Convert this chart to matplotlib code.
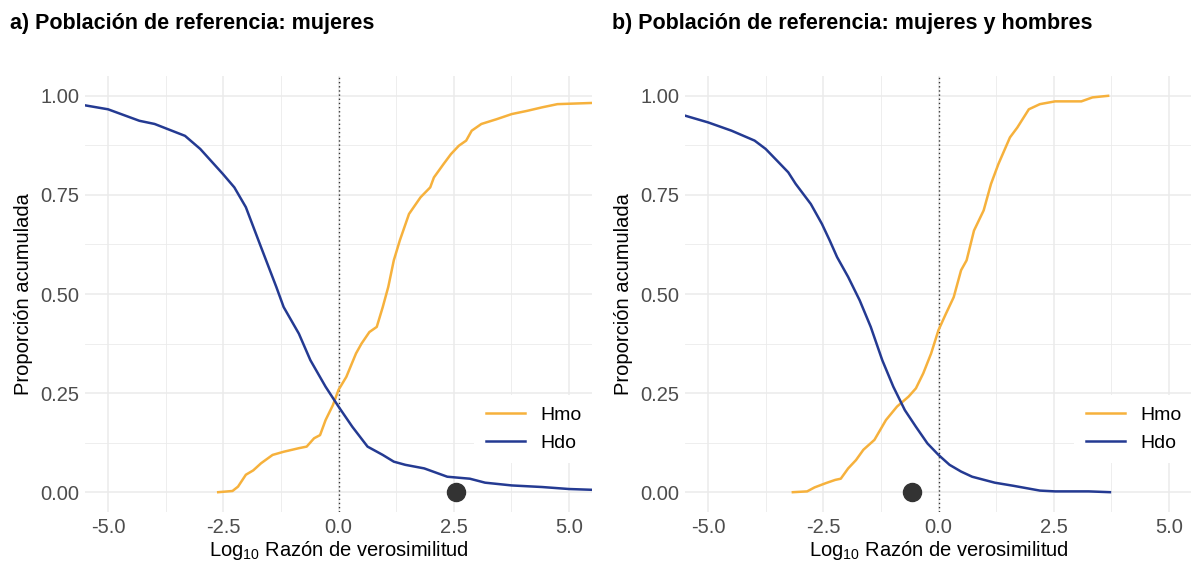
import matplotlib
matplotlib.use("Agg")
import matplotlib.pyplot as plt
from matplotlib.ticker import MultipleLocator

plt.rcParams['font.family'] = ['Liberation Sans', 'DejaVu Sans']
plt.rcParams['mathtext.default'] = 'regular'

# ---------------- data ----------------
titles = ["a) Población de referencia: mujeres",
          "b) Población de referencia: mujeres y hombres"]
series_names = ["Hmo", "Hdo"]

# Panel a (mujeres)
a_hdo_x = [-5.5, -5.0, -4.32, -3.99, -3.33, -3.00, -2.51, -2.26, -2.01, -1.68, -1.35,
           -1.19, -0.86, -0.61, -0.28, 0.0, 0.30, 0.63, 0.96, 1.20, 1.45, 1.86, 2.36,
           2.85, 3.18, 3.76, 4.42, 5.0, 5.5]
a_hdo_y = [0.976, 0.966, 0.937, 0.929, 0.899, 0.866, 0.803, 0.769, 0.719, 0.618, 0.518,
           0.467, 0.400, 0.333, 0.266, 0.216, 0.165, 0.115, 0.094, 0.077, 0.069, 0.060, 0.039,
           0.034, 0.024, 0.017, 0.013, 0.008, 0.006]
a_hmo_x = [-2.61, -2.30, -2.18, -2.01, -1.85, -1.68, -1.43, -1.19, -0.86, -0.69, -0.53,
           -0.40, -0.28, -0.12, 0.0, 0.17, 0.38, 0.50, 0.67, 0.83, 0.96, 1.08, 1.20, 1.33,
           1.53, 1.78, 1.99, 2.07, 2.28, 2.44, 2.61, 2.77, 2.89, 3.10, 3.43, 3.76, 4.09,
           4.42, 4.75, 5.5]
a_hmo_y = [0.0, 0.003, 0.014, 0.044, 0.055, 0.073, 0.094, 0.102, 0.111, 0.115, 0.136,
           0.144, 0.182, 0.220, 0.258, 0.291, 0.350, 0.375, 0.404, 0.417, 0.467, 0.518, 0.585,
           0.635, 0.702, 0.744, 0.769, 0.794, 0.828, 0.853, 0.874, 0.887, 0.912, 0.929, 0.941,
           0.954, 0.962, 0.971, 0.979, 0.982]
a_point_x = 2.55

# Panel b (mujeres y hombres)
b_hdo_x = [-5.5, -5.0, -4.49, -3.99, -3.75, -3.50, -3.26, -3.10, -2.77, -2.53, -2.36,
           -2.20, -1.96, -1.71, -1.47, -1.22, -0.98, -0.73, -0.49, -0.24, 0.0, 0.24, 0.49,
           0.73, 1.22, 1.63, 2.20, 2.53, 3.26, 3.72]
b_hdo_y = [0.950, 0.933, 0.912, 0.887, 0.866, 0.836, 0.807, 0.778, 0.727, 0.677, 0.635,
           0.593, 0.543, 0.484, 0.417, 0.333, 0.266, 0.207, 0.165, 0.123, 0.094, 0.069, 0.052,
           0.039, 0.024, 0.016, 0.004, 0.002, 0.002, 0.0]
b_hmo_x = [-3.16, -2.85, -2.69, -2.44, -2.24, -2.12, -1.96, -1.79, -1.63, -1.39, -1.14,
           -0.90, -0.65, -0.49, -0.33, -0.16, 0.0, 0.16, 0.33, 0.49, 0.61, 0.77, 0.98, 1.14,
           1.30, 1.55, 1.71, 1.96, 2.20, 2.53, 3.10, 3.34, 3.68]
b_hmo_y = [0.0, 0.002, 0.012, 0.023, 0.031, 0.034, 0.060, 0.081, 0.107, 0.132, 0.182,
           0.216, 0.241, 0.262, 0.300, 0.350, 0.409, 0.450, 0.492, 0.560, 0.585, 0.660, 0.711,
           0.778, 0.828, 0.895, 0.920, 0.966, 0.979, 0.986, 0.986, 0.996, 1.0]
b_point_x = -0.58

x_ticks = [-5.0, -2.5, 0.0, 2.5, 5.0]
y_ticks = [0.00, 0.25, 0.50, 0.75, 1.00]
x_label = r"Log$_{10}$ Razón de verosimilitud"
y_label = "Proporción acumulada"

# ---------------- style ----------------
ORANGE = "#F6B13C"
BLUE = "#243A92"
GRID = "#EBEBEB"
TICKC = "#4D4D4D"

W, H = 1191, 565
fig = plt.figure(figsize=(W / 100, H / 100), dpi=100)

panels = [
    (a_hmo_x, a_hmo_y, a_hdo_x, a_hdo_y, a_point_x, 85, titles[0], 10),
    (b_hmo_x, b_hmo_y, b_hdo_x, b_hdo_y, b_point_x, 685, titles[1], 612),
]

for hmo_x, hmo_y, hdo_x, hdo_y, px, left_px, title, title_px in panels:
    ax = fig.add_axes([left_px / W, (H - 512) / H, 507 / W, 436 / H])
    ax.set_xlim(-5.5, 5.5)
    ax.set_ylim(-0.05, 1.05)
    for s in ax.spines.values():
        s.set_visible(False)
    ax.set_xticks(x_ticks)
    ax.set_xticklabels([f"{v:.1f}" for v in x_ticks])
    ax.set_yticks(y_ticks)
    ax.set_yticklabels([f"{v:.2f}" for v in y_ticks])
    ax.xaxis.set_minor_locator(MultipleLocator(1.25))
    ax.yaxis.set_minor_locator(MultipleLocator(0.125))
    ax.tick_params(which='both', length=0)
    ax.tick_params(axis='both', labelsize=14.5, colors=TICKC, pad=4)
    ax.grid(which='major', color=GRID, lw=1.1)
    ax.grid(which='minor', color=GRID, lw=0.6)
    ax.set_axisbelow(True)

    ax.axvline(0, color="#333333", lw=1.0, ls=(0, (1, 2)), zorder=2)
    ax.plot(hmo_x, hmo_y, color=ORANGE, lw=1.8, label=series_names[0], zorder=3,
            solid_joinstyle='round')
    ax.plot(hdo_x, hdo_y, color=BLUE, lw=1.8, label=series_names[1], zorder=3,
            solid_joinstyle='round')
    ax.plot([px], [0.0], 'o', color="#333333", ms=13, zorder=4)

    ax.set_xlabel(x_label, fontsize=14.5, color="black", labelpad=2)
    ax.set_ylabel(y_label, fontsize=14.5, color="black", labelpad=5)

    leg = ax.legend(loc='center', bbox_to_anchor=(0.885, 0.19), fontsize=14,
                    frameon=True, facecolor='white', edgecolor='none', framealpha=1,
                    handlelength=2.0, handletextpad=0.8, labelspacing=0.5,
                    borderpad=0.6, fancybox=False)
    leg.set_zorder(5)

    fig.text(title_px / W, 1 - 24 / H, title, fontsize=15.5, fontweight='bold',
             ha='left', va='center')

fig.savefig("out.png", dpi=100)
